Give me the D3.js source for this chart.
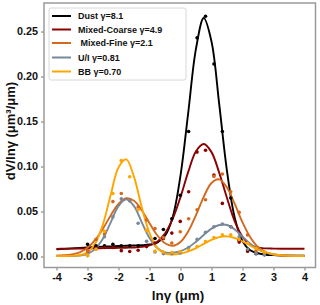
<!DOCTYPE html>
<html>
<head>
<meta charset="utf-8">
<script src="https://cdn.jsdelivr.net/npm/d3@7"></script>
<style>
  html, body { margin: 0; padding: 0; background: #fff; }
  svg { display: block; font-family: "Liberation Sans", Arial, sans-serif; }
</style>
</head>
<body>
<svg id="chart" width="320" height="305"></svg>
<script>
// ---- data ----
const seriesNames = ["Dust γ=8.1", "Mixed-Coarse γ=4.9", " Mixed-Fine γ=2.1", "U/I γ=0.81", "BB γ=0.70"];
const seriesColors = ["#000000", "#8B0000", "#D2691E", "#778899", "#FFA500"];

// fitted-curve sample positions (lnγ)
const curveX = [-4, -3.75, -3.5, -3.25, -3, -2.75, -2.5, -2.25, -2, -1.75, -1.5, -1.25, -1, -0.75, -0.5, -0.25,
  0, 0.25, 0.5, 0.75, 1, 1.25, 1.5, 1.75, 2, 2.25, 2.5, 2.75, 3, 3.25, 3.5, 3.75, 4];

const dustCurve = [0.0080, 0.0085, 0.0090, 0.0095, 0.0100, 0.0105, 0.0110, 0.0113, 0.0117, 0.0120, 0.0123, 0.0126, 0.0133, 0.0155, 0.0230, 0.0440,
  0.0900, 0.1600, 0.2310, 0.2650, 0.2390, 0.1690, 0.0950, 0.0430, 0.0170, 0.0070, 0.0036, 0.0020, 0.0015, 0.0012, 0.0010, 0.0009, 0.0008];
const coarseCurve = [0.0085, 0.0086, 0.0088, 0.0089, 0.0090, 0.0092, 0.0093, 0.0095, 0.0096, 0.0098, 0.0100, 0.0107, 0.0124, 0.0165, 0.0255, 0.0420,
  0.0660, 0.0940, 0.1170, 0.1250, 0.1160, 0.0930, 0.0650, 0.0390, 0.0220, 0.0130, 0.0098, 0.0090, 0.0088, 0.0087, 0.0087, 0.0087, 0.0087];
const fineCurve = [0.0011, 0.0014, 0.0024, 0.0047, 0.0097, 0.0184, 0.0310, 0.0457, 0.0585, 0.0648, 0.0620, 0.0514, 0.0370, 0.0236, 0.0148, 0.0120,
  0.0162, 0.0280, 0.0460, 0.0663, 0.0817, 0.0857, 0.0766, 0.0584, 0.0380, 0.0214, 0.0105, 0.0048, 0.0022, 0.0012, 0.0008, 0.0006, 0.0005];
const uiCurve = [0.0005, 0.0005, 0.0006, 0.0011, 0.0030, 0.0085, 0.0200, 0.0380, 0.0560, 0.0635, 0.0560, 0.0380, 0.0205, 0.0094, 0.0045, 0.0042,
  0.0060, 0.0100, 0.0165, 0.0240, 0.0310, 0.0350, 0.0350, 0.0300, 0.0221, 0.0143, 0.0082, 0.0043, 0.0022, 0.0015, 0.0011, 0.0009, 0.0008];
const bbCurve = [0.0005, 0.0005, 0.0007, 0.0014, 0.0046, 0.0144, 0.0360, 0.0687, 0.0990, 0.1080, 0.0885, 0.0548, 0.0260, 0.0096, 0.0033, 0.0022,
  0.0033, 0.0057, 0.0094, 0.0140, 0.0185, 0.0216, 0.0224, 0.0206, 0.0168, 0.0121, 0.0078, 0.0046, 0.0025, 0.0014, 0.0008, 0.0006, 0.0005];

// measured size bins (radius, μm)
const radii = [0.05, 0.065604, 0.086077, 0.112939, 0.148184, 0.194429, 0.255105, 0.334716, 0.439173, 0.576227, 0.756052,
  0.991996, 1.301571, 1.707757, 2.240702, 2.939966, 3.857452, 5.061260, 6.640745, 8.713145, 11.432287, 15.0];

const dustPts = [0.0135, 0.012, 0.012, 0.0135, 0.012, 0.012, 0.012, 0.012, 0.020, 0.030, 0.042,
  0.068, 0.139, 0.243, 0.267, 0.214, 0.139, 0.065, 0.018, 0.006, 0.003, 0.002];
const coarsePts = [0.006, 0.009, 0.010, 0.010, 0.0065, 0.0055, 0.007, 0.011, 0.015, 0.020, 0.026,
  0.039, 0.072, 0.116, 0.118, 0.0905, 0.059, 0.033, 0.016, 0.006, 0.004, 0.0035];
const finePts = [0.006, 0.019, 0.025, 0.061, 0.070, 0.062, 0.055, 0.0405, 0.031, 0.021, 0.015,
  0.0276, 0.042, 0.052, 0.063, 0.089, 0.0917, 0.072, 0.049, 0.024, 0.006, 0.003];
const uiPts = [0.001, 0.008, 0.022, 0.044, 0.064, 0.062, 0.037, 0.017, 0.005, 0.003, 0.003,
  0.004, 0.010, 0.019, 0.027, 0.033, 0.036, 0.033, 0.022, 0.008, 0.0035, 0.002];
const bbPts = [0.001, 0.008, 0.028, 0.070, 0.1065, 0.0887, 0.052, 0.029, 0.006, 0.005, 0.0045,
  0.0053, 0.0072, 0.011, 0.0165, 0.021, 0.024, 0.024, 0.019, 0.0147, 0.009, 0.005];

const xTicks = [-4, -3, -2, -1, 0, 1, 2, 3, 4];
const yTicks = [0, 0.05, 0.10, 0.15, 0.20, 0.25];
const xTitle = "lnγ (μm)";
const yTitle = "dV/lnγ (μm³/μm)";

// ---- drawing ----
const curves = [dustCurve, coarseCurve, fineCurve, uiCurve, bbCurve];
const points = [dustPts, coarsePts, finePts, uiPts, bbPts];

const svg = d3.select("#chart");
const L = 44, R = 315.5, T = 3, B = 267.5;

const x = d3.scaleLinear().domain([-4.403, 4.355]).range([L, R]);
const y = d3.scaleLinear().domain([-0.0122, 0.2817]).range([B, T]);

// axes
const xAxis = d3.axisBottom(x).tickValues(xTicks).tickSize(3).tickPadding(3).tickFormat(d => String(d));
const yAxis = d3.axisLeft(y).tickValues(yTicks).tickSize(3).tickPadding(3).tickFormat(d3.format(".2f"));

const gx = svg.append("g").attr("transform", `translate(0,${B})`).call(xAxis);
const gy = svg.append("g").attr("transform", `translate(${L},0)`).call(yAxis);
[gx, gy].forEach(g => {
  g.select(".domain").remove();
  g.selectAll(".tick line").attr("stroke", "#8a8a8a").attr("stroke-width", 1.2);
  g.selectAll(".tick text").attr("fill", "#111").attr("font-weight", "bold")
    .attr("font-size", "10.8px").attr("font-family", "Liberation Sans, Arial, sans-serif");
});

// frame
svg.append("rect").attr("x", L).attr("y", T).attr("width", R - L).attr("height", B - T)
  .attr("fill", "none").attr("stroke", "#9a9a9a").attr("stroke-width", 1.5);

// curves
const line = d3.line().x((d, i) => x(curveX[i])).y(d => y(d)).curve(d3.curveCatmullRom.alpha(0.5));
curves.forEach((c, s) => {
  svg.append("path").datum(c).attr("d", line)
    .attr("fill", "none").attr("stroke", seriesColors[s]).attr("stroke-width", 1.9);
});

// points
points.forEach((p, s) => {
  svg.append("g").selectAll("circle").data(p).join("circle")
    .attr("cx", (d, i) => x(Math.log(radii[i])))
    .attr("cy", d => y(d))
    .attr("r", 1.8)
    .attr("fill", seriesColors[s]);
});

// axis titles
svg.append("text").attr("x", 178).attr("y", 300).attr("text-anchor", "middle")
  .attr("font-weight", "bold").attr("font-size", "13.5px").attr("fill", "#111").text(xTitle);
svg.append("text").attr("transform", `translate(15,131) rotate(-90)`).attr("text-anchor", "middle")
  .attr("font-weight", "bold").attr("font-size", "13px").attr("fill", "#111").text(yTitle);

// legend
const lg = svg.append("g");
lg.append("rect").attr("x", 49).attr("y", 8).attr("width", 137).attr("height", 72).attr("rx", 2)
  .attr("fill", "#fff").attr("fill-opacity", 0.9).attr("stroke", "#d8d8d8").attr("stroke-width", 1);
const rowY = [16, 29.5, 43, 57.5, 71.5];
seriesNames.forEach((n, s) => {
  lg.append("line").attr("x1", 52).attr("x2", 71).attr("y1", rowY[s]).attr("y2", rowY[s])
    .attr("stroke", seriesColors[s]).attr("stroke-width", 2);
  lg.append("text").attr("x", 78).attr("y", rowY[s] + 3.3).attr("font-weight", "bold")
    .attr("font-size", "9px").attr("fill", "#111").style("white-space", "pre").text(n);
});
</script>
</body>
</html>
